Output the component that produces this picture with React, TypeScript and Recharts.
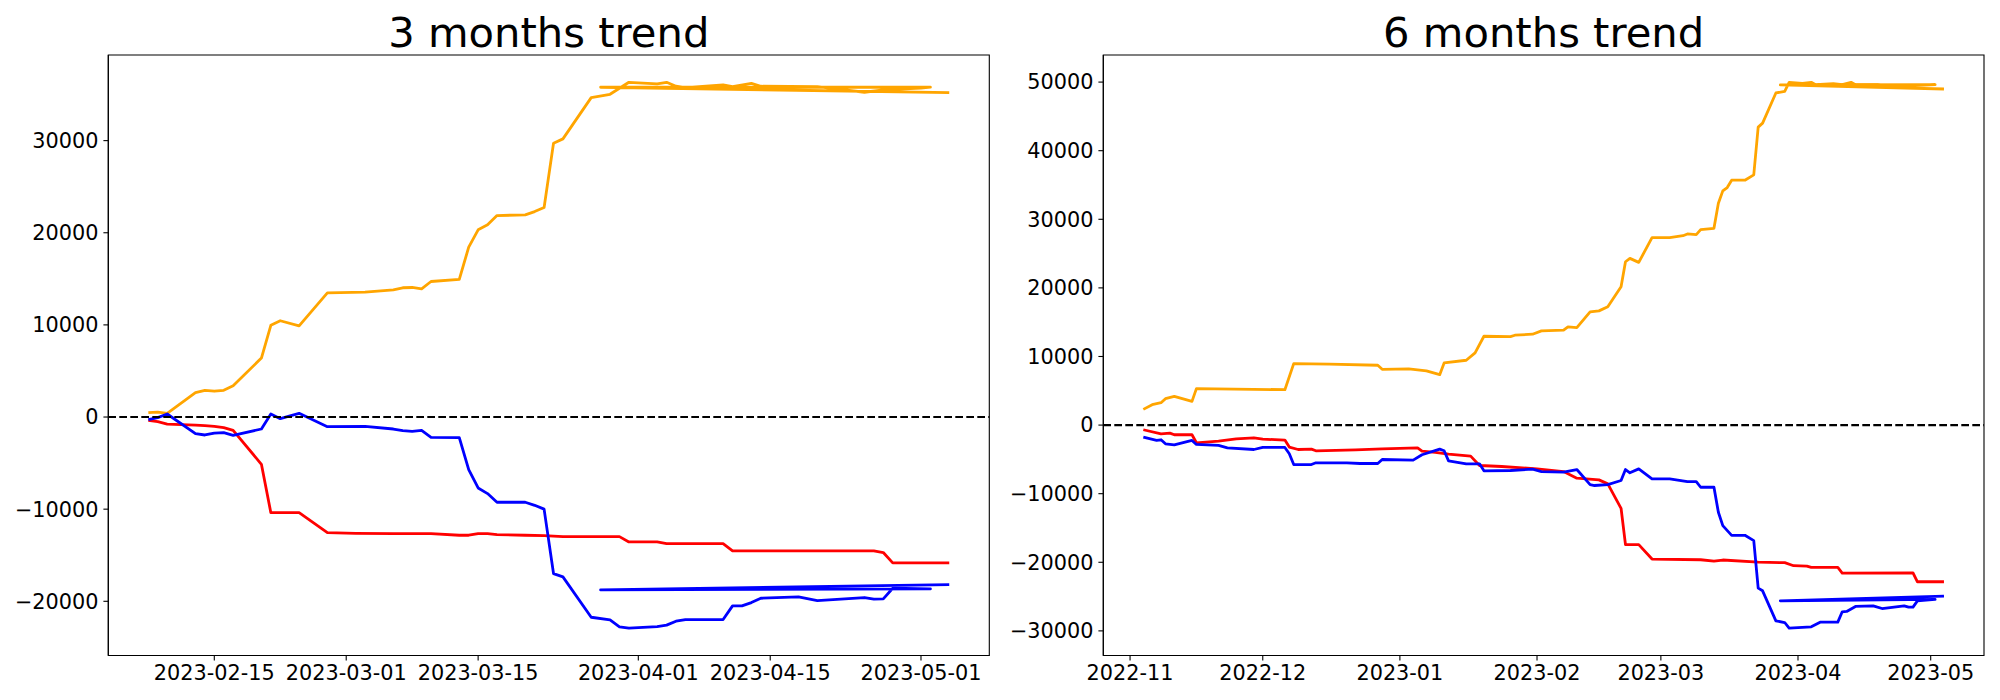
import React from "react";
import { LineChart, Line, XAxis, YAxis, ReferenceLine, ReferenceArea } from "recharts";

// ---------- 3 months trend ----------
const orange3m: [string, number][] = [
  ["2023-02-08", 470], ["2023-02-09", 540], ["2023-02-10", 400], ["2023-02-13", 2640],
  ["2023-02-14", 2900], ["2023-02-15", 2800], ["2023-02-16", 2900], ["2023-02-17", 3400],
  ["2023-02-20", 6400], ["2023-02-21", 9950], ["2023-02-22", 10450], ["2023-02-24", 9900],
  ["2023-02-27", 13480], ["2023-03-03", 13560], ["2023-03-06", 13810], ["2023-03-07", 14030],
  ["2023-03-08", 14060], ["2023-03-09", 13920], ["2023-03-10", 14710], ["2023-03-13", 14930],
  ["2023-03-14", 18440], ["2023-03-15", 20320], ["2023-03-16", 20860], ["2023-03-17", 21870],
  ["2023-03-20", 21940], ["2023-03-21", 22300], ["2023-03-22", 22740], ["2023-03-23", 29720],
  ["2023-03-24", 30190], ["2023-03-27", 34670], ["2023-03-29", 35030], ["2023-03-31", 36330],
  ["2023-04-03", 36150], ["2023-04-04", 36330], ["2023-04-05", 35900], ["2023-04-06", 35760],
  ["2023-04-10", 36040], ["2023-04-11", 35860], ["2023-04-13", 36220], ["2023-04-14", 35900],
  ["2023-04-20", 35860], ["2023-04-25", 35250], ["2023-04-27", 35500], ["2023-05-01", 35700],
  ["2023-05-02", 35800], ["2023-03-28", 35790], ["2023-05-04", 35210],
];
const red3m: [string, number][] = [
  ["2023-02-08", -360], ["2023-02-09", -510], ["2023-02-10", -760], ["2023-02-13", -870],
  ["2023-02-14", -940], ["2023-02-15", -1010], ["2023-02-16", -1160], ["2023-02-17", -1450],
  ["2023-02-20", -5130], ["2023-02-21", -10380], ["2023-02-24", -10380], ["2023-02-27", -12540],
  ["2023-03-02", -12620], ["2023-03-06", -12650], ["2023-03-10", -12650], ["2023-03-13", -12830],
  ["2023-03-14", -12830], ["2023-03-15", -12650], ["2023-03-16", -12650], ["2023-03-17", -12760],
  ["2023-03-20", -12830], ["2023-03-22", -12870], ["2023-03-24", -12980], ["2023-03-30", -12980],
  ["2023-03-31", -13560], ["2023-04-03", -13560], ["2023-04-04", -13740], ["2023-04-10", -13740],
  ["2023-04-11", -14530], ["2023-04-26", -14530], ["2023-04-27", -14710], ["2023-04-28", -15830],
  ["2023-05-04", -15830],
];
const blue3m: [string, number][] = [
  ["2023-02-08", -290], ["2023-02-09", -70], ["2023-02-10", 330], ["2023-02-13", -1810],
  ["2023-02-14", -1950], ["2023-02-15", -1740], ["2023-02-16", -1700], ["2023-02-17", -1990],
  ["2023-02-20", -1300], ["2023-02-21", 330], ["2023-02-22", -180], ["2023-02-24", 400],
  ["2023-02-27", -1050], ["2023-03-03", -1010], ["2023-03-06", -1300], ["2023-03-07", -1480],
  ["2023-03-08", -1550], ["2023-03-09", -1450], ["2023-03-10", -2200], ["2023-03-13", -2240],
  ["2023-03-14", -5710], ["2023-03-15", -7700], ["2023-03-16", -8310], ["2023-03-17", -9250],
  ["2023-03-20", -9250], ["2023-03-21", -9580], ["2023-03-22", -10000], ["2023-03-23", -16990],
  ["2023-03-24", -17350], ["2023-03-27", -21730], ["2023-03-29", -22020], ["2023-03-30", -22770],
  ["2023-03-31", -22920], ["2023-04-03", -22740], ["2023-04-04", -22590], ["2023-04-05", -22160],
  ["2023-04-06", -21980], ["2023-04-10", -21980], ["2023-04-11", -20500], ["2023-04-12", -20500],
  ["2023-04-13", -20140], ["2023-04-14", -19670], ["2023-04-18", -19520], ["2023-04-20", -19920],
  ["2023-04-25", -19590], ["2023-04-26", -19770], ["2023-04-27", -19740], ["2023-04-28", -18580],
  ["2023-05-02", -18650], ["2023-03-28", -18760], ["2023-05-04", -18180],
];
const ticks3mX = ["2023-02-15", "2023-03-01", "2023-03-15", "2023-04-01", "2023-04-15", "2023-05-01"];
const ticks3mY = [-20000, -10000, 0, 10000, 20000, 30000];

// ---------- 6 months trend ----------
const orange6m: [string, number][] = [
  ["2022-11-04", 2290], ["2022-11-06", 2970], ["2022-11-08", 3260], ["2022-11-09", 3850],
  ["2022-11-11", 4190], ["2022-11-15", 3460], ["2022-11-16", 5310], ["2022-12-06", 5160],
  ["2022-12-08", 8960], ["2022-12-16", 8900], ["2022-12-27", 8720], ["2022-12-28", 8130],
  ["2023-01-03", 8180], ["2023-01-07", 7900], ["2023-01-10", 7350], ["2023-01-11", 9060],
  ["2023-01-16", 9450], ["2023-01-18", 10520], ["2023-01-20", 12950], ["2023-01-26", 12900],
  ["2023-01-27", 13100], ["2023-01-31", 13250], ["2023-02-02", 13730], ["2023-02-07", 13830],
  ["2023-02-08", 14320], ["2023-02-10", 14220], ["2023-02-13", 16510], ["2023-02-15", 16650],
  ["2023-02-17", 17240], ["2023-02-20", 20160], ["2023-02-21", 23810], ["2023-02-22", 24300],
  ["2023-02-24", 23720], ["2023-02-27", 27320], ["2023-03-03", 27320], ["2023-03-06", 27610],
  ["2023-03-07", 27860], ["2023-03-09", 27760], ["2023-03-10", 28490], ["2023-03-13", 28680],
  ["2023-03-14", 32340], ["2023-03-15", 34140], ["2023-03-16", 34630], ["2023-03-17", 35700],
  ["2023-03-20", 35700], ["2023-03-22", 36480], ["2023-03-23", 43440], ["2023-03-24", 44020],
  ["2023-03-27", 48410], ["2023-03-29", 48650], ["2023-03-30", 49970], ["2023-04-02", 49820],
  ["2023-04-04", 49970], ["2023-04-05", 49630], ["2023-04-09", 49770], ["2023-04-11", 49630],
  ["2023-04-13", 49970], ["2023-04-14", 49630], ["2023-04-19", 49630], ["2023-04-24", 49380],
  ["2023-05-02", 49630], ["2023-03-28", 49580], ["2023-05-04", 48990],
];
const red6m: [string, number][] = [
  ["2022-11-04", -680], ["2022-11-08", -1270], ["2022-11-10", -1170], ["2022-11-11", -1410],
  ["2022-11-15", -1410], ["2022-11-16", -2580], ["2022-11-21", -2340], ["2022-11-25", -2000],
  ["2022-11-29", -1850], ["2022-12-01", -2050], ["2022-12-06", -2190], ["2022-12-07", -3210],
  ["2022-12-09", -3560], ["2022-12-12", -3510], ["2022-12-13", -3750], ["2022-12-22", -3600],
  ["2022-12-28", -3460], ["2023-01-05", -3310], ["2023-01-06", -3800], ["2023-01-09", -3990],
  ["2023-01-12", -4240], ["2023-01-17", -4530], ["2023-01-19", -5890], ["2023-01-24", -6040],
  ["2023-02-01", -6380], ["2023-02-07", -6770], ["2023-02-10", -7740], ["2023-02-15", -7990],
  ["2023-02-17", -8570], ["2023-02-20", -12130], ["2023-02-21", -17430], ["2023-02-24", -17430],
  ["2023-02-27", -19530], ["2023-03-10", -19630], ["2023-03-13", -19820], ["2023-03-15", -19670],
  ["2023-03-23", -19970], ["2023-03-29", -20060], ["2023-03-31", -20500], ["2023-04-03", -20550],
  ["2023-04-04", -20750], ["2023-04-10", -20750], ["2023-04-11", -21570], ["2023-04-27", -21530],
  ["2023-04-28", -22840], ["2023-05-04", -22840],
];
const blue6m: [string, number][] = [
  ["2022-11-04", -1750], ["2022-11-07", -2240], ["2022-11-08", -2140], ["2022-11-09", -2730],
  ["2022-11-11", -2870], ["2022-11-15", -2240], ["2022-11-16", -2820], ["2022-11-21", -2970],
  ["2022-11-23", -3310], ["2022-11-29", -3560], ["2022-12-01", -3260], ["2022-12-06", -3260],
  ["2022-12-07", -4190], ["2022-12-08", -5750], ["2022-12-12", -5750], ["2022-12-13", -5500],
  ["2022-12-20", -5500], ["2022-12-23", -5600], ["2022-12-27", -5600], ["2022-12-28", -5020],
  ["2023-01-04", -5110], ["2023-01-06", -4330], ["2023-01-10", -3510], ["2023-01-11", -3750],
  ["2023-01-12", -5210], ["2023-01-13", -5310], ["2023-01-16", -5650], ["2023-01-19", -5650],
  ["2023-01-20", -6670], ["2023-01-26", -6620], ["2023-01-31", -6430], ["2023-02-02", -6770],
  ["2023-02-07", -6870], ["2023-02-10", -6480], ["2023-02-13", -8670], ["2023-02-14", -8810],
  ["2023-02-17", -8670], ["2023-02-20", -8080], ["2023-02-21", -6480], ["2023-02-22", -6960],
  ["2023-02-24", -6380], ["2023-02-27", -7840], ["2023-03-03", -7840], ["2023-03-07", -8230],
  ["2023-03-09", -8230], ["2023-03-10", -9060], ["2023-03-13", -9060], ["2023-03-14", -12710],
  ["2023-03-15", -14660], ["2023-03-17", -16070], ["2023-03-20", -16070], ["2023-03-22", -16850],
  ["2023-03-23", -23770], ["2023-03-24", -24160], ["2023-03-27", -28540], ["2023-03-29", -28780],
  ["2023-03-30", -29610], ["2023-04-04", -29410], ["2023-04-06", -28730], ["2023-04-10", -28730],
  ["2023-04-11", -27220], ["2023-04-12", -27170], ["2023-04-14", -26440], ["2023-04-18", -26350],
  ["2023-04-20", -26740], ["2023-04-25", -26350], ["2023-04-26", -26540], ["2023-04-27", -26540],
  ["2023-04-28", -25620], ["2023-05-02", -25420], ["2023-03-28", -25620], ["2023-05-04", -24930],
];
const ticks6mX = ["2022-11-01", "2022-12-01", "2023-01-01", "2023-02-01", "2023-03-01", "2023-04-01", "2023-05-01"];
const ticks6mY = [-30000, -20000, -10000, 0, 10000, 20000, 30000, 40000, 50000];

const COLORS = { orange: "#FFA500", red: "#FF0000", blue: "#0000FF" };
const FONT = "'DejaVu Sans', sans-serif";

const ts = (s: string) => Date.parse(s + "T00:00:00Z");
const toPts = (arr: [string, number][]) => arr.map(([d, v]) => ({ t: ts(d), v }));

function padDomain(vals: number[]): [number, number] {
  const lo = Math.min(...vals);
  const hi = Math.max(...vals);
  const m = (hi - lo) * 0.05;
  return [lo - m, hi + m];
}

const minus = (n: number) => (n < 0 ? "\u2212" + Math.abs(n) : String(n));

interface PanelProps {
  title: string;
  series: { data: [string, number][]; color: string }[];
  xTicks: string[];
  yTicks: number[];
  xFmt: (v: number) => string;
  left: number;
  yAxisWidth: number;
  rightMargin: number;
}

function Panel({ title, series, xTicks, yTicks, xFmt, left, yAxisWidth, rightMargin }: PanelProps) {
  const W = 1000;
  const H = 700;
  const top = 55;
  const xAxisH = 44.5;
  const all = series.flatMap((s) => s.data);
  const xDom = padDomain(all.map(([d]) => ts(d)));
  const yDom = padDomain(all.map(([, v]) => v));
  const tickStyle = { fill: "#000", fontSize: 20.8, fontFamily: FONT };
  const plotW = W - yAxisWidth - rightMargin;
  return (
    <div style={{ position: "absolute", left, top: 0, width: W, height: H }}>
      <div
        style={{
          position: "absolute",
          left: yAxisWidth,
          width: plotW,
          top: 11.7,
          textAlign: "center",
          fontFamily: FONT,
          fontSize: 41.7,
          lineHeight: 1,
          color: "#000",
          whiteSpace: "nowrap",
        }}
      >
        {title}
      </div>
      <LineChart width={W} height={H} margin={{ top, right: rightMargin, bottom: 0, left: 0 }}>
        <XAxis
          dataKey="t"
          type="number"
          domain={xDom}
          allowDataOverflow
          ticks={xTicks.map(ts)}
          tickFormatter={xFmt}
          height={xAxisH}
          tick={tickStyle}
          tickSize={4.9}
          tickMargin={4.9}
          axisLine={{ stroke: "#000", strokeWidth: 1.1 }}
          tickLine={{ stroke: "#000", strokeWidth: 1.1 }}
          interval={0}
        />
        <YAxis
          dataKey="v"
          type="number"
          domain={yDom}
          allowDataOverflow
          ticks={yTicks}
          tickFormatter={minus}
          width={yAxisWidth}
          tick={tickStyle}
          tickSize={4.9}
          tickMargin={4.9}
          axisLine={{ stroke: "#000", strokeWidth: 1.1 }}
          tickLine={{ stroke: "#000", strokeWidth: 1.1 }}
          interval={0}
        />
        <ReferenceArea
          x1={xDom[0]}
          x2={xDom[1]}
          y1={yDom[0]}
          y2={yDom[1]}
          fill="none"
          fillOpacity={0}
          stroke="#000"
          strokeWidth={1.1}
          ifOverflow="visible"
        />
        {series.map((s, i) => (
          <Line
            key={i}
            data={toPts(s.data)}
            dataKey="v"
            type="linear"
            stroke={s.color}
            strokeWidth={2.8}
            strokeLinejoin="round"
            dot={false}
            activeDot={false}
            isAnimationActive={false}
          />
        ))}
        <ReferenceLine y={0} stroke="#000" strokeWidth={2.1} strokeDasharray="7.7 3.3" />
      </LineChart>
    </div>
  );
}

export default function App() {
  const fmtDay = (v: number) => new Date(v).toISOString().slice(0, 10);
  const fmtMonth = (v: number) => new Date(v).toISOString().slice(0, 7);
  return (
    <div style={{ position: "absolute", left: 0, top: 0, width: 2000, height: 700, background: "#fff" }}>
      <Panel
        title="3 months trend"
        series={[
          { data: orange3m, color: COLORS.orange },
          { data: red3m, color: COLORS.red },
          { data: blue3m, color: COLORS.blue },
        ]}
        xTicks={ticks3mX}
        yTicks={ticks3mY}
        xFmt={fmtDay}
        left={0}
        yAxisWidth={108.3}
        rightMargin={10.7}
      />
      <Panel
        title="6 months trend"
        series={[
          { data: orange6m, color: COLORS.orange },
          { data: red6m, color: COLORS.red },
          { data: blue6m, color: COLORS.blue },
        ]}
        xTicks={ticks6mX}
        yTicks={ticks6mY}
        xFmt={fmtMonth}
        left={1000}
        yAxisWidth={103.3}
        rightMargin={16}
      />
    </div>
  );
}
